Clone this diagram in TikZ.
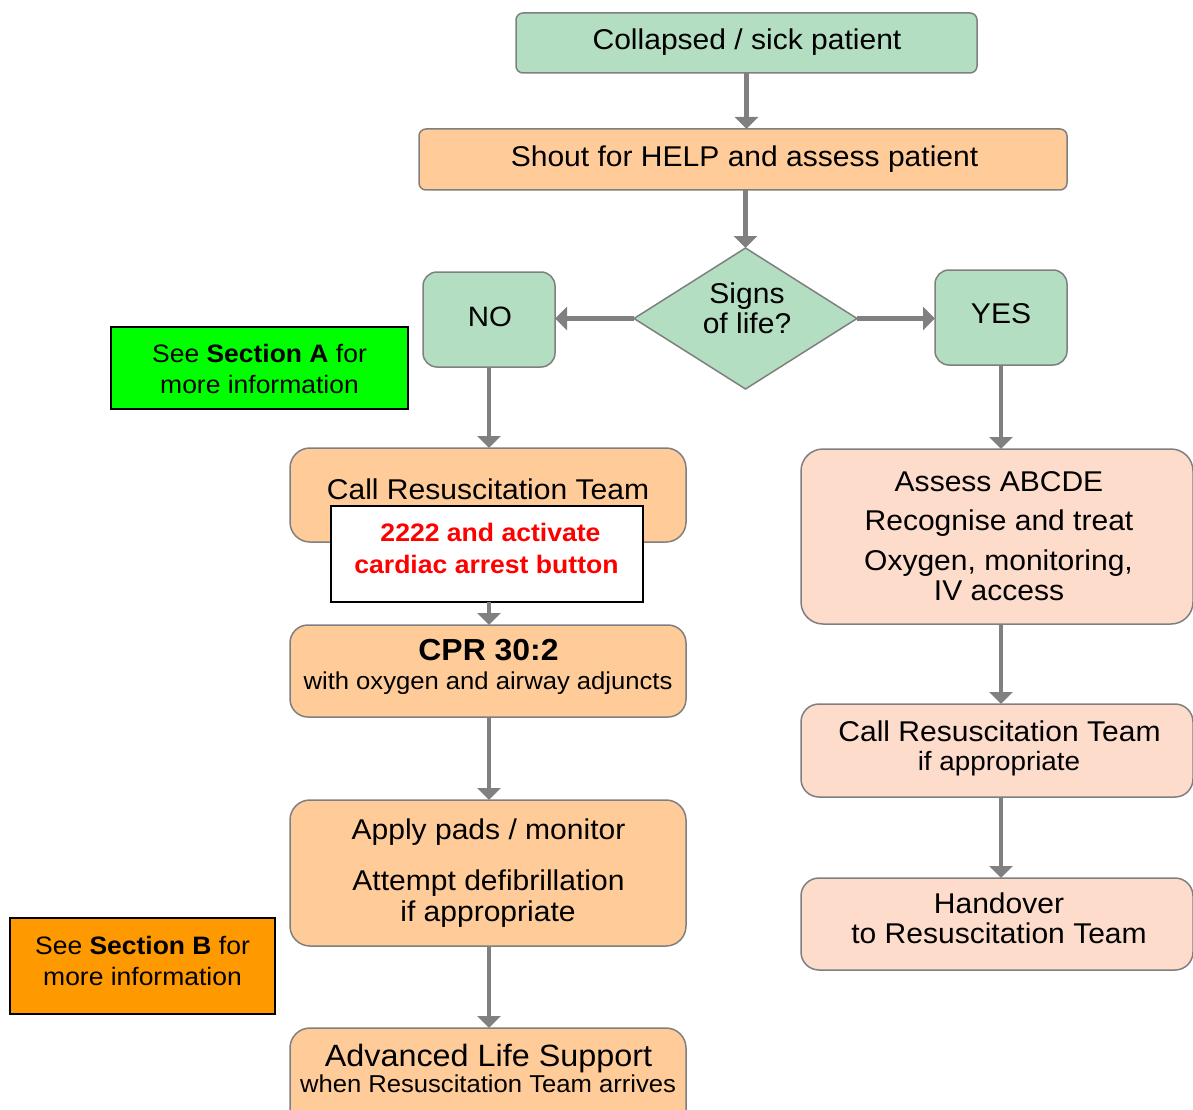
\documentclass[tikz,border=0pt]{standalone}
\usepackage{fontspec}
\setmainfont{Liberation Sans}[FakeStretch=1.05]
\usetikzlibrary{arrows.meta,shapes.geometric}
\definecolor{boxgreen}{HTML}{B3DEC1}
\definecolor{boxorange}{HTML}{FFCC99}
\definecolor{boxpeach}{HTML}{FDDCCB}
\definecolor{edgegray}{HTML}{7F7F7F}
\definecolor{arrowgray}{HTML}{808080}
\definecolor{secgreen}{HTML}{00FF00}
\definecolor{secorange}{HTML}{FF9900}
\definecolor{alertred}{HTML}{FF0000}
\newcommand{\fsz}[1]{\fontsize{#1pt}{#1pt}\selectfont}
\begin{document}
\begin{tikzpicture}[x=1pt,y=-1pt,
  every node/.style={inner sep=0pt, outer sep=0pt},
  flowbox/.style={draw=edgegray, line width=1.5pt, rectangle},
  gbox/.style={flowbox, fill=boxgreen},
  obox/.style={flowbox, fill=boxorange},
  pbox/.style={flowbox, fill=boxpeach},
  secbox/.style={draw=black, line width=2pt, rectangle},
  txt/.style={anchor=base, text=black},
  main/.style={txt, font=\fsz{28.6}},
  sub/.style={txt, font=\fsz{24.4}},
  flow/.style={draw=arrowgray, line width=4.3pt, -{Triangle[width=23pt,length=12pt]}},
]
\useasboundingbox (0,0) rectangle (1193,1110);

% boxes
\node[gbox, rounded corners=7pt, minimum width=461pt, minimum height=60pt] (collapsed) at (746.5,43) {};
\node[obox, rounded corners=7pt, minimum width=648pt, minimum height=61pt] (shout) at (743,159.5) {};
\node[diamond, draw=edgegray, line width=1.5pt, fill=boxgreen, minimum width=223pt, minimum height=141pt] (signs) at (745.5,318.5) {};
\node[gbox, rounded corners=14pt, minimum width=132pt, minimum height=95pt] (no) at (489,319.5) {};
\node[gbox, rounded corners=14pt, minimum width=132pt, minimum height=95pt] (yes) at (1001,317.5) {};
\node[secbox, fill=secgreen, minimum width=297pt, minimum height=82pt] (secA) at (259.5,368) {};
\node[obox, rounded corners=20pt, minimum width=396pt, minimum height=94pt] (callL) at (488,495) {};
\node[secbox, fill=white, minimum width=312pt, minimum height=96pt] (alert) at (487,554) {};
\node[obox, rounded corners=18pt, minimum width=396pt, minimum height=92pt] (cpr) at (488,671) {};
\node[obox, rounded corners=20pt, minimum width=396pt, minimum height=146pt] (pads) at (488,873) {};
\node[secbox, fill=secorange, minimum width=265pt, minimum height=96pt] (secB) at (142.5,966) {};
\node[obox, rounded corners=20pt, minimum width=396pt, minimum height=104pt] (als) at (488,1080) {};
\node[pbox, rounded corners=22pt, minimum width=392pt, minimum height=175pt] (assess) at (997,536.5) {};
\node[pbox, rounded corners=18pt, minimum width=392pt, minimum height=93pt] (callR) at (997,750.5) {};
\node[pbox, rounded corners=18pt, minimum width=392pt, minimum height=92pt] (handover) at (997,924) {};

% connectors
\draw[flow] (collapsed.south) -- (collapsed.south |- shout.north);
\draw[flow] (signs.north |- shout.south) -- (signs.north);
\draw[flow] (signs.west) -- (no.east |- signs.west);
\draw[flow] (signs.east) -- (yes.west |- signs.east);
\draw[flow] (no.south) -- (no.south |- callL.north);
\draw[flow] (no.south |- alert.south) -- (no.south |- cpr.north);
\draw[flow] (no.south |- cpr.south) -- (no.south |- pads.north);
\draw[flow] (no.south |- pads.south) -- (no.south |- als.north);
\draw[flow] (yes.south) -- (yes.south |- assess.north);
\draw[flow] (yes.south |- assess.south) -- (yes.south |- callR.north);
\draw[flow] (yes.south |- callR.south) -- (yes.south |- handover.north);

% texts
\node[main] (collapsed-t) at (747,50) {Collapsed / sick patient};
\node[main] (shout-t) at (744.5,167) {Shout for HELP and assess patient};
\node[main] (signs-t1) at (747,303) {Signs};
\node[main] (signs-t2) at (747,333) {of life?};
\node[main, font=\fsz{28}] (no-t) at (490,326) {NO};
\node[main] (yes-t) at (1001,323) {YES};
\node[txt, font=\fsz{25.2}] (secA-t1) at (259.5,362) {See \textbf{Section A} for};
\node[txt, font=\fsz{25.2}] (secA-t2) at (259.5,393) {more information};
\node[main] (callL-t) at (488,499) {Call Resuscitation Team};
\node[txt, font=\bfseries\fsz{25.3}, text=alertred] (alert-t1) at (490.5,541) {2222 and activate};
\node[txt, font=\bfseries\fsz{25.3}, text=alertred] (alert-t2) at (486.5,573) {cardiac arrest button};
\node[txt, font=\bfseries\fsz{30.4}] (cpr-t1) at (488.5,660) {CPR 30:2};
\node[sub] (cpr-t2) at (488,689) {with oxygen and airway adjuncts};
\node[main] (pads-t1) at (488.5,839) {Apply pads / monitor};
\node[main] (pads-t2) at (488.5,890) {Attempt defibrillation};
\node[main] (pads-t3) at (488,921) {if appropriate};
\node[txt, font=\fsz{25.2}] (secB-t1) at (142.5,954) {See \textbf{Section B} for};
\node[txt, font=\fsz{25.2}] (secB-t2) at (142.5,985) {more information};
\node[txt, font=\fsz{30.8}] (als-t1) at (488.5,1066) {Advanced Life Support};
\node[sub] (als-t2) at (488,1092) {when Resuscitation Team arrives};
\node[main] (assess-t1) at (999,491.5) {Assess ABCDE};
\node[main] (assess-t2) at (999,530.5) {Recognise and treat};
\node[main] (assess-t3) at (998.5,570) {Oxygen, monitoring,};
\node[main] (assess-t4) at (999,600) {IV access};
\node[main] (callR-t1) at (999.5,741) {Call Resuscitation Team};
\node[txt, font=\fsz{26.5}] (callR-t2) at (999,770) {if appropriate};
\node[main] (handover-t1) at (999,913) {Handover};
\node[main] (handover-t2) at (999,943) {to Resuscitation Team};
\end{tikzpicture}
\end{document}
